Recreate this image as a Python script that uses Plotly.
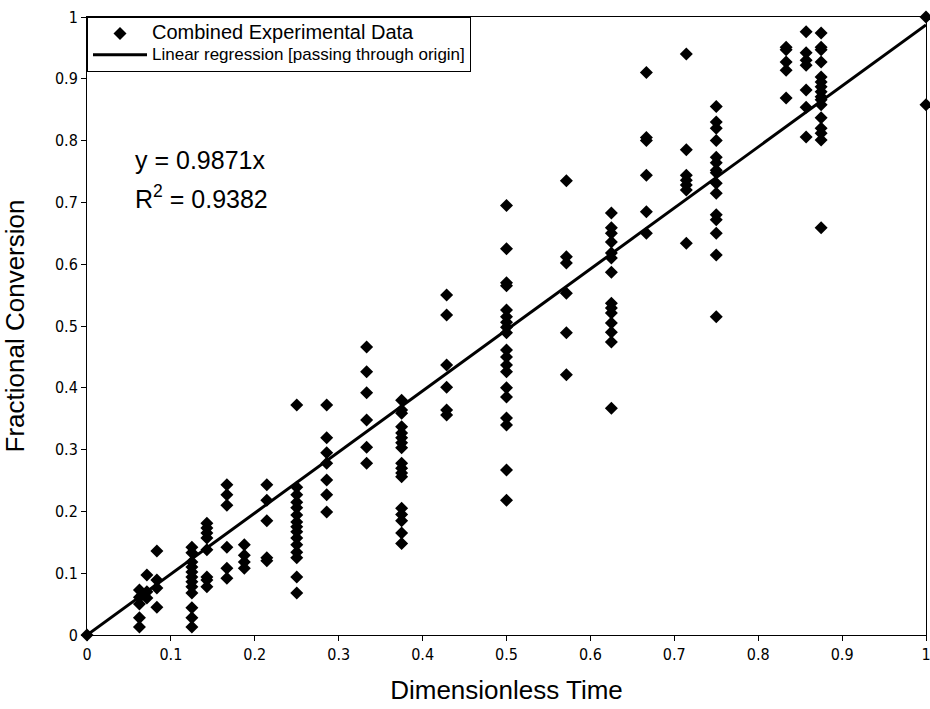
import plotly.graph_objects as go

# Discrete dimensionless-time columns and the fractional conversions observed at each
col_x = [0.0, 0.0625, 0.0714, 0.0833, 0.125, 0.1429, 0.1667, 0.1875, 0.2143, 0.25,
         0.2857, 0.3333, 0.375, 0.4286, 0.5, 0.5714, 0.625, 0.6667, 0.7143, 0.75,
         0.8333, 0.8571, 0.875, 1.0]
col_y = [
    [0.0],
    [0.073, 0.061, 0.05, 0.028, 0.013],
    [0.097, 0.07, 0.06],
    [0.136, 0.089, 0.076, 0.045],
    [0.142, 0.133, 0.118, 0.11, 0.102, 0.094, 0.086, 0.078, 0.068, 0.044, 0.028, 0.013],
    [0.181, 0.173, 0.165, 0.157, 0.138, 0.094, 0.089, 0.078],
    [0.243, 0.227, 0.21, 0.142, 0.108, 0.092],
    [0.146, 0.129, 0.118, 0.108],
    [0.243, 0.218, 0.185, 0.125, 0.12],
    [0.372, 0.239, 0.227, 0.215, 0.206, 0.194, 0.183, 0.175, 0.167, 0.157, 0.146, 0.134,
     0.125, 0.094, 0.068],
    [0.372, 0.319, 0.295, 0.278, 0.251, 0.227, 0.199],
    [0.466, 0.426, 0.392, 0.348, 0.304, 0.278],
    [0.38, 0.364, 0.359, 0.337, 0.327, 0.319, 0.311, 0.303, 0.278, 0.27, 0.262, 0.256,
     0.205, 0.195, 0.185, 0.165, 0.148],
    [0.55, 0.518, 0.437, 0.401, 0.364, 0.356],
    [0.695, 0.625, 0.57, 0.565, 0.526, 0.515, 0.506, 0.498, 0.489, 0.461, 0.45, 0.437,
     0.426, 0.4, 0.385, 0.351, 0.34, 0.267, 0.218],
    [0.735, 0.612, 0.602, 0.553, 0.489, 0.421],
    [0.683, 0.659, 0.65, 0.636, 0.618, 0.61, 0.587, 0.537, 0.529, 0.521, 0.505, 0.49,
     0.474, 0.367],
    [0.91, 0.805, 0.8, 0.744, 0.685, 0.65],
    [0.94, 0.785, 0.744, 0.736, 0.728, 0.72, 0.634],
    [0.855, 0.83, 0.82, 0.8, 0.773, 0.764, 0.752, 0.748, 0.731, 0.715, 0.68, 0.672, 0.65,
     0.615, 0.515],
    [0.951, 0.947, 0.927, 0.914, 0.869],
    [0.976, 0.942, 0.93, 0.922, 0.882, 0.854, 0.806],
    [0.974, 0.951, 0.947, 0.927, 0.903, 0.895, 0.887, 0.879, 0.871, 0.866, 0.858, 0.837,
     0.82, 0.812, 0.801, 0.659],
    [1.0, 0.858],
]
slope = 0.9871
r_squared = 0.9382
fit_x = [0.0, 1.0]
tick_vals = [0, 0.1, 0.2, 0.3, 0.4, 0.5, 0.6, 0.7, 0.8, 0.9, 1]
tick_text = ["0", "0.1", "0.2", "0.3", "0.4", "0.5", "0.6", "0.7", "0.8", "0.9", "1"]
series_names = ["Combined Experimental Data", "Linear regression [passing through origin]"]

xs, ys = [], []
for cx, cys in zip(col_x, col_y):
    for v in cys:
        xs.append(cx)
        ys.append(v)

FONT = "Liberation Sans, Arial, sans-serif"
NARROW = "Liberation Sans Narrow, Arial Narrow, DejaVu Sans Condensed, Liberation Sans, sans-serif"

fig = go.Figure()
fig.add_trace(go.Scatter(
    x=xs, y=ys, mode="markers",
    name=f"<span style='font-size:20px'>{series_names[0]}</span>",
    marker=dict(symbol="diamond", size=10, color="black", line=dict(width=0)),
    cliponaxis=False,
))
fig.add_trace(go.Scatter(
    x=fit_x, y=[slope * v for v in fit_x], mode="lines",
    name=f"<span style='font-size:17px'>{series_names[1]}</span>",
    line=dict(color="black", width=3),
))

fig.add_annotation(x=0.055, y=0.769, xref="x", yref="y", xanchor="left", yanchor="middle",
                   text=f"y = {slope}x", showarrow=False,
                   font=dict(family=FONT, size=25, color="black"))
fig.add_annotation(x=0.055, y=0.709, xref="x", yref="y", xanchor="left", yanchor="middle",
                   text=f"R<sup>2</sup> = {r_squared}", showarrow=False,
                   font=dict(family=FONT, size=25, color="black"))

axis_common = dict(
    range=[0, 1], tickmode="array", tickvals=tick_vals, ticktext=tick_text,
    showgrid=False, zeroline=False, showline=True, linecolor="black", linewidth=1,
    mirror=True, ticks="outside", ticklen=5, tickcolor="black", tickwidth=1,
    tickfont=dict(family=NARROW, size=16, color="black"), automargin=False,
    ticklabeloverflow="allow",
)
fig.update_xaxes(**axis_common,
                 title=dict(text="Dimensionless Time", standoff=17,
                            font=dict(family=FONT, size=26, color="black")))
fig.update_yaxes(**axis_common,
                 title=dict(text="Fractional Conversion", standoff=29,
                            font=dict(family=FONT, size=26, color="black")))

fig.update_layout(
    width=930, height=709,
    margin=dict(l=87, r=4, t=17, b=74),
    plot_bgcolor="white", paper_bgcolor="white",
    showlegend=True,
    legend=dict(x=0, y=1, xanchor="left", yanchor="top", bgcolor="white",
                bordercolor="black", borderwidth=1,
                font=dict(family=FONT, size=14, color="black"),
                tracegroupgap=0, itemwidth=54),
)

fig.write_html("out.html", config=dict(displayModeBar=False),
               post_script="document.body.style.margin='0';")
